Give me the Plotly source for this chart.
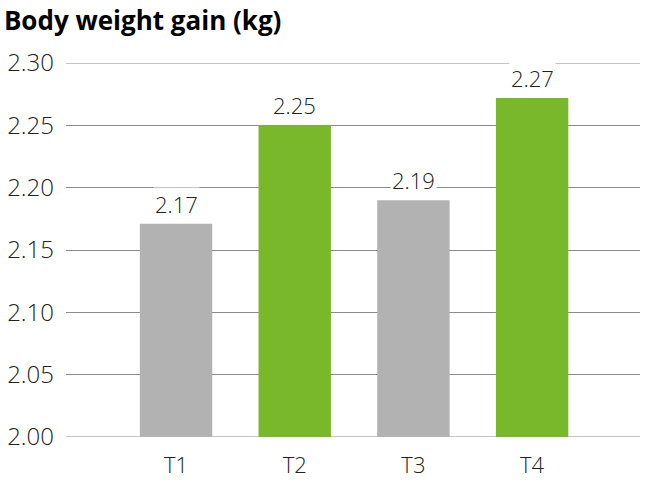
import plotly.graph_objects as go

categories = ["T1", "T2", "T3", "T4"]
values = [2.171, 2.25, 2.19, 2.272]
labels = ["2.17", "2.25", "2.19", "2.27"]
colors = ["#b2b2b2", "#78b82a", "#b2b2b2", "#78b82a"]
yticks = [2.00, 2.05, 2.10, 2.15, 2.20, 2.25, 2.30]

FONT = "Open Sans"
GRID = "#8a8a8a"

fig = go.Figure(go.Bar(x=categories, y=values, marker_color=colors, marker_line_width=0))

for c, v, t in zip(categories, values, labels):
    fig.add_annotation(x=c, y=v, text=t, showarrow=False, yanchor="bottom", yshift=3,
                       bgcolor="white",
                       font=dict(family=FONT, size=22, color="#222222", weight=300))

for yv in (yticks[0], yticks[-1]):
    fig.add_shape(type="line", xref="paper", x0=0, x1=1, yref="y", y0=yv, y1=yv,
                  line=dict(color=GRID, width=1), layer="below")

fig.update_layout(
    width=650, height=480,
    margin=dict(l=66, r=10, t=63, b=43, autoexpand=False),
    plot_bgcolor="white", paper_bgcolor="white",
    bargap=0.39,
    showlegend=False,
    title=dict(text="<b>Body weight gain (kg)</b>", x=0.006, xanchor="left", y=0.976, yanchor="top",
               font=dict(family=FONT, size=26, color="#000000")),
    xaxis=dict(range=[-0.927, 3.909], showgrid=False, showline=False, ticks="",
               ticklabelstandoff=13, automargin=False,
               tickfont=dict(family=FONT, size=22, color="#222222", weight=300)),
    yaxis=dict(range=[2.0, 2.3], tickvals=yticks, ticktext=[f"{v:.2f}" for v in yticks],
               showgrid=True, gridcolor=GRID, gridwidth=1, zeroline=False, showline=False,
               ticks="", ticklabelstandoff=11, automargin=False,
               tickfont=dict(family=FONT, size=24, color="#222222", weight=300)),
)

fig.write_html("out.html")
